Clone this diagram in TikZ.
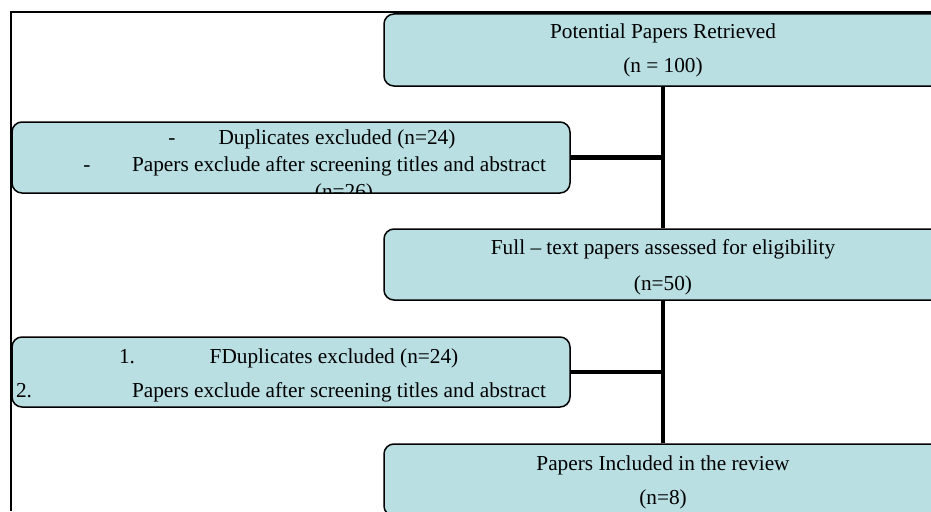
\documentclass[tikz,border=0pt]{standalone}
\usepackage{fontspec}
\setmainfont{Liberation Serif}
\definecolor{boxblue}{RGB}{185,223,227}
\tikzset{
  stagebox/.style={draw=black, line width=1.5pt, fill=boxblue, rounded corners=10pt,
    minimum width=558pt, minimum height=72pt, inner sep=0pt},
  stagetext/.style={font=\fontsize{21.3}{25}\selectfont, inner sep=0pt, anchor=base},
  flowline/.style={line width=4.8pt}
}
\begin{document}
\begin{tikzpicture}[x=1pt,y=-1pt]
\useasboundingbox (0,0) rectangle (931,511);
\clip (0,0) rectangle (931,511);
    % frame
    \draw[line width=1.4pt] (11,511) -- (11,12) -- (931,12);
    % boxes
    \node[stagebox] (retrieved) at (663,50) {};
    \node[stagebox, minimum height=71pt] (screened) at (291,157.5) {};
    \node[stagebox, minimum height=71pt] (fulltext) at (663,264.5) {};
    \node[stagebox, minimum height=70pt] (excluded) at (291,372) {};
    \node[stagebox] (included) at (663,480) {};
    % connectors
    \draw[flowline] (retrieved.south) -- (fulltext.north);
    \draw[flowline] (fulltext.south) -- (included.north);
    \draw[flowline] (screened.east) -- (screened.east -| retrieved.south);
    \draw[flowline] (excluded.east) -- (excluded.east -| fulltext.south);
    % texts
    \node[stagetext] (t1a) at (663,38) {Potential Papers Retrieved};
    \node[stagetext] (t1b) at (663,72) {(n = 100)};
\begin{scope}
    \clip[rounded corners=9pt] ([shift={(1,-1)}]screened.south west) rectangle ([shift={(-1,1)}]screened.north east);
    \node[stagetext] (d1) at (172,144) {-};
    \node[stagetext] (t2a) at (337,144) {Duplicates excluded (n=24)};
    \node[stagetext] (d2) at (87,171) {-};
    \node[stagetext] (t2b) at (339,171) {Papers exclude after screening titles and abstract};
    \node[stagetext] (t2c) at (344,198) {(n=26)};
\end{scope}
    \node[stagetext] (t3a) at (663,254) {Full -- text papers assessed for eligibility};
    \node[stagetext] (t3b) at (663,290) {(n=50)};
    \node[stagetext] (e1) at (127,363) {1.};
    \node[stagetext] (t4a) at (334,363) {FDuplicates excluded (n=24)};
    \node[stagetext] (e2) at (24,397) {2.};
    \node[stagetext] (t4b) at (339,397) {Papers exclude after screening titles and abstract};
    \node[stagetext] (t5a) at (663,470) {Papers Included in the review};
    \node[stagetext] (t5b) at (663,504) {(n=8)};
\end{tikzpicture}
\end{document}
